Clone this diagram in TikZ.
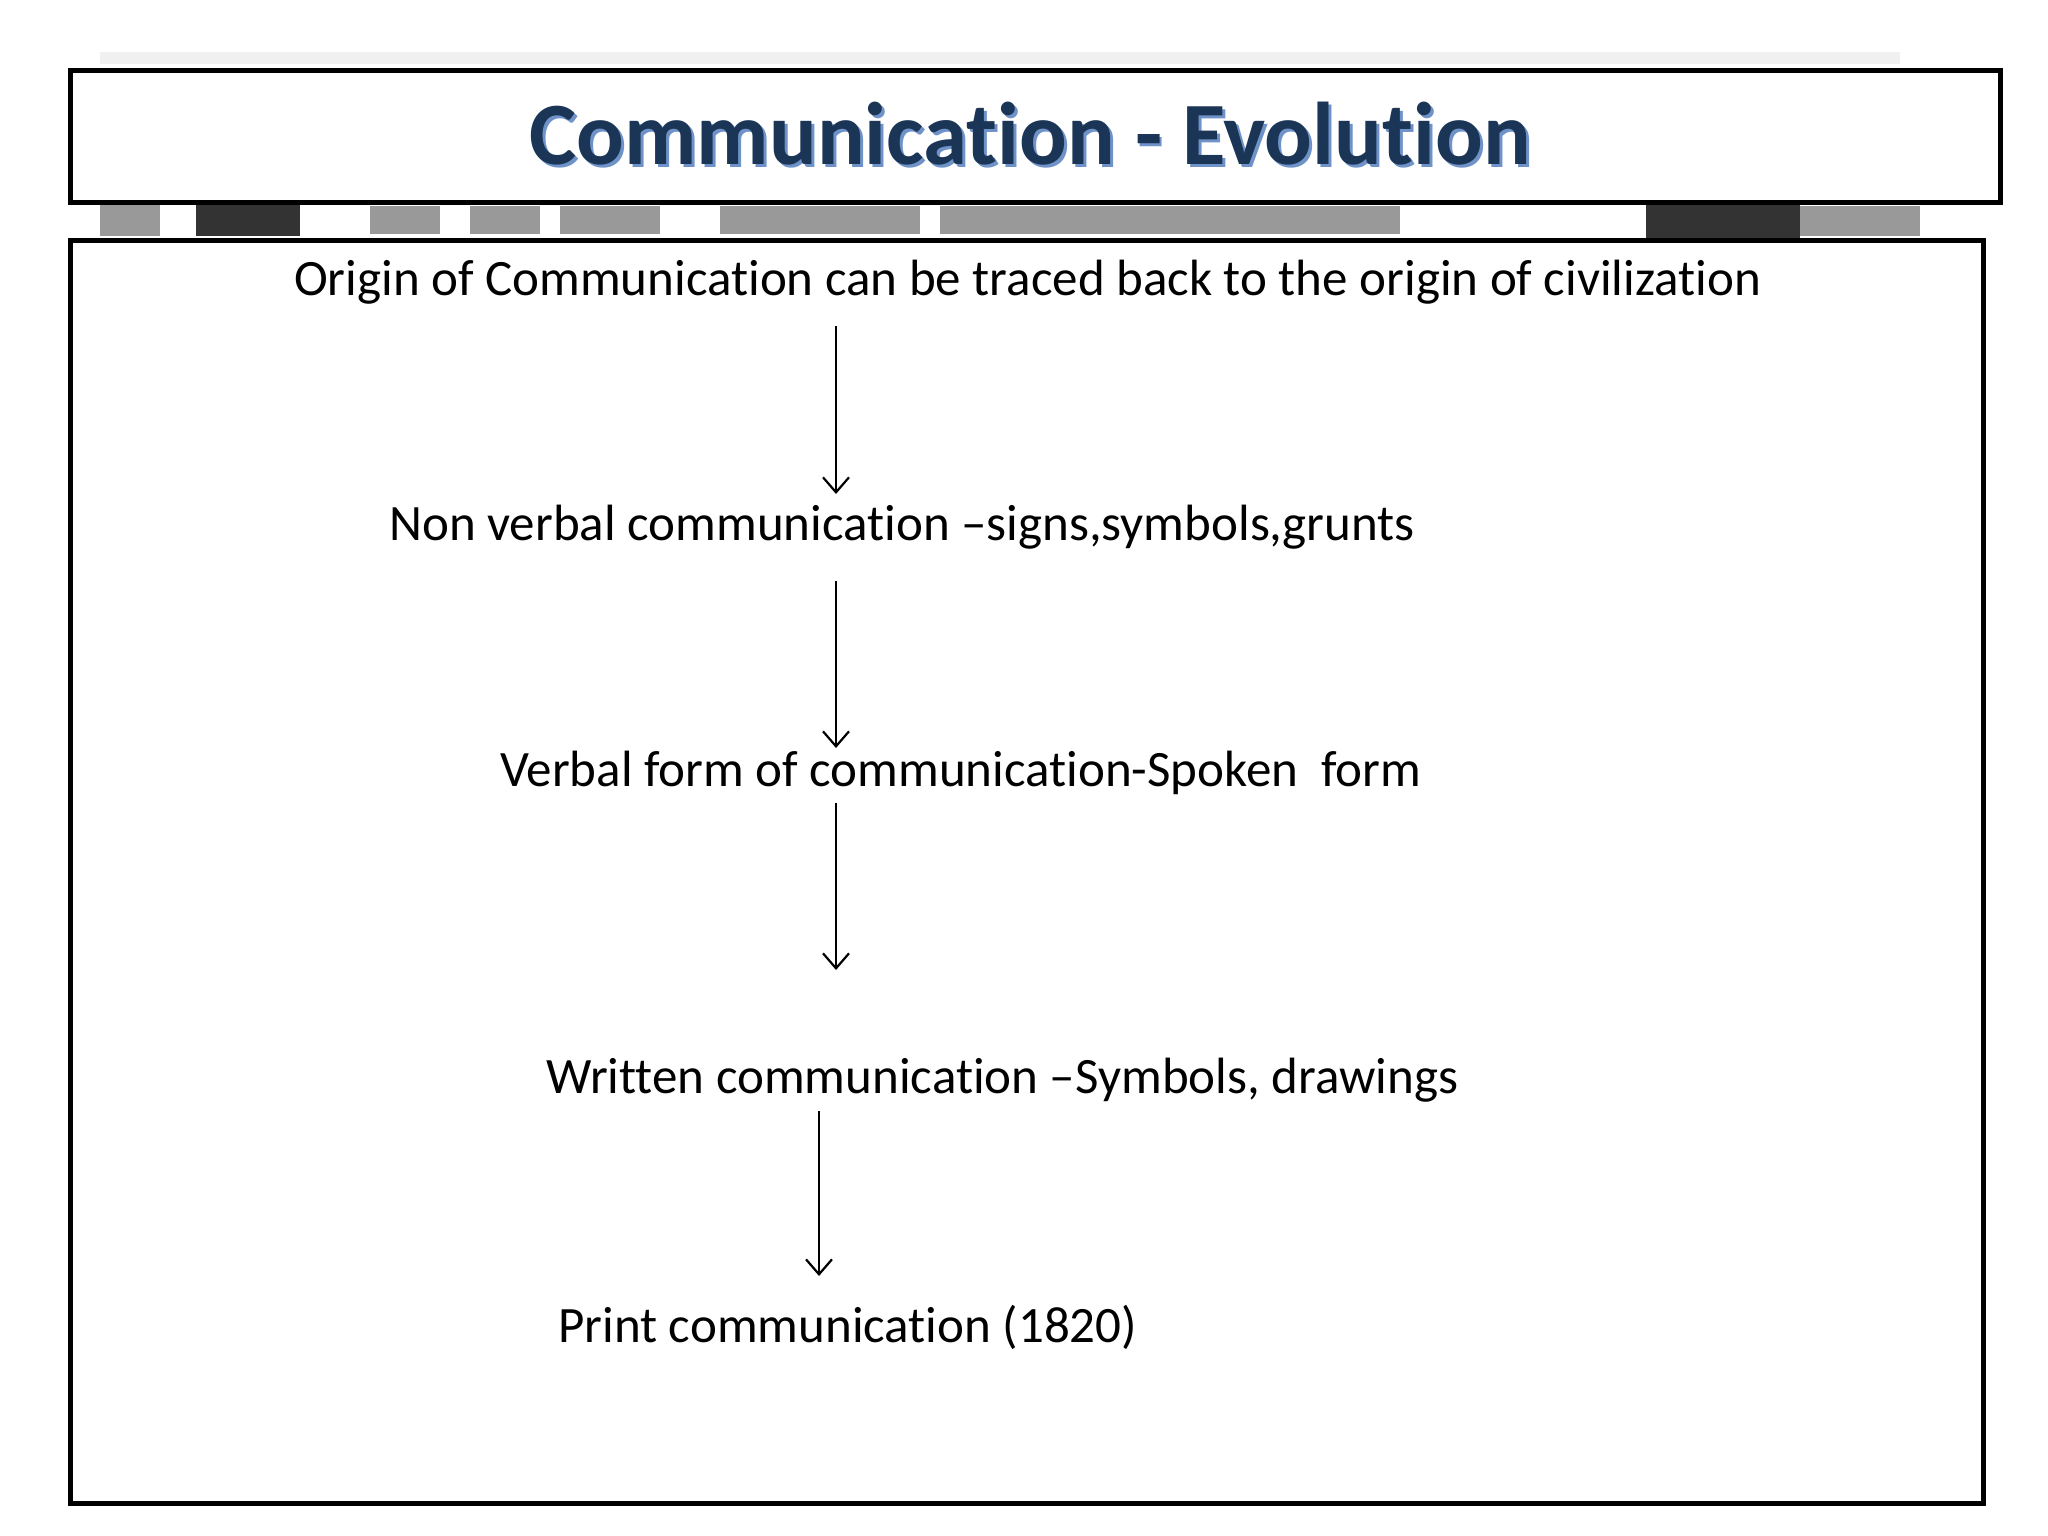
\documentclass[tikz,border=0pt]{standalone}
\usepackage{fontspec}
\setmainfont{Carlito}[Ligatures=NoCommon]
\usetikzlibrary{arrows.meta}
\definecolor{titlenavy}{HTML}{1B3556}
\definecolor{titleglow}{HTML}{6F93C8}
\tikzset{
  frame/.style={draw=black, line width=5pt},
  bodytext/.style={font=\fontsize{51}{60}\selectfont, text=black, inner sep=0pt, anchor=west},
  flow/.style={draw=black, line width=2.2pt, -{Straight Barb[length=15pt, width=26pt, line width=2.2pt]}},
  noise/.style={fill=black!80, draw=none},
  noiselight/.style={fill=black!40, draw=none}
}
\begin{document}
\begin{tikzpicture}[x=1pt, y=-1pt]
\useasboundingbox (0,0) rectangle (2048,1536);
\fill[white] (0,0) rectangle (2048,1536);
% blurred strip between boxes
\fill[noiselight] (100,205) rectangle (160,236);
\fill[noise] (196,204) rectangle (300,236);
\fill[noiselight] (370,206) rectangle (440,234);
\fill[noiselight] (470,206) rectangle (540,234);
\fill[noiselight] (560,206) rectangle (660,234);
\fill[noiselight] (720,206) rectangle (920,234);
\fill[noiselight] (940,206) rectangle (1400,234);
\fill[noise] (1646,202) rectangle (1800,238);
\fill[noiselight] (1800,206) rectangle (1920,236);
\fill[black!6] (100,52) rectangle (1900,64);
% boxes
\node[frame, fill=white, minimum width=1930pt, minimum height=132pt, inner sep=0pt, anchor=north west] (titlebox) at (68,68) {};
\node[frame, fill=white, minimum width=1913pt, minimum height=1263pt, inner sep=0pt, anchor=north west] (mainbox) at (68,238) {};
% title
\node[font=\fontsize{89}{100}\selectfont\bfseries, text=titleglow, inner sep=0pt] (titleglowtext) at (1033,137) {Communication - Evolution};
\node[font=\fontsize{89}{100}\selectfont\bfseries, text=titlenavy, inner sep=0pt] (title) at (1030,134) {Communication - Evolution};
% steps
\node[bodytext] (s1) at (294,282) {Origin of Communication can be traced back to the origin of civilization};
\node[bodytext] (s2) at (389,527) {Non verbal communication –signs,symbols,grunts};
\node[bodytext] (s3) at (500,773) {Verbal form of communication-Spoken\ \ form};
\node[bodytext] (s4) at (546,1080) {Written communication –Symbols, drawings};
\node[bodytext] (s5) at (558,1327) {Print communication (1820)};
% arrow endpoints
\coordinate (a1s) at (836,326); \coordinate (a1e) at (836,494);
\coordinate (a2s) at (836,581); \coordinate (a2e) at (836,748);
\coordinate (a3s) at (836,803); \coordinate (a3e) at (836,970);
\coordinate (a4s) at (819,1111); \coordinate (a4e) at (819,1276);
\draw[flow] (a1s) -- (a1e);
\draw[flow] (a2s) -- (a2e);
\draw[flow] (a3s) -- (a3e);
\draw[flow] (a4s) -- (a4e);
\end{tikzpicture}
\end{document}
